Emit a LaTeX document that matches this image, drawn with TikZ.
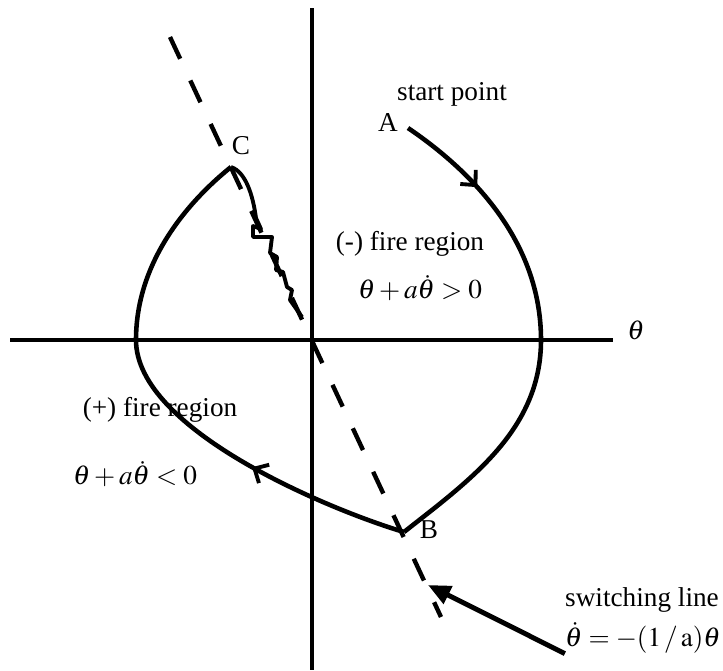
\documentclass[tikz,border=0pt]{standalone}
\usepackage{mathptmx}
\usepackage[no-math]{fontspec}
\setmainfont{Liberation Serif}
\usetikzlibrary{arrows.meta,decorations.markings}

\tikzset{
  axis/.style={line width=1.9pt},
  orbit/.style={line width=2.6pt},
  switchline/.style={line width=2.5pt, dash pattern=on 0.48cm off 0.48cm},
  midarrow/.style={postaction={decorate},
    decoration={markings,mark=at position #1 with {\arrow{Straight Barb[length=0.22cm,width=0.42cm,line width=2.2pt]}}}},
  lbl/.style={font=\fontsize{15.5}{18}\selectfont, inner sep=0pt}
}

\begin{document}
\begin{tikzpicture}[>=stealth, x=0.02cm, y=-0.02cm]
  \useasboundingbox (0,0) rectangle (723,670);
  % axes
  \draw[axis] (10,340) -- (613,340);
  \draw[axis] (312,8) -- (312,670);
  \node[lbl] (thlab) at (636,330) {$\theta$};
  % switching line
  \draw[switchline] (170,37) -- (441,617);
  % trajectory
  \coordinate (A) at (408,128);
  \coordinate (R) at (541,340);
  \coordinate (B) at (404,532);
  \coordinate (L) at (136,340);
  \coordinate (C) at (231,167);
  \draw[orbit, midarrow=0.35] (A) .. controls (470,170) and (541,240) .. (R);
  \draw[orbit] (R) .. controls (541,430) and (470,480) .. (B);
  \draw[orbit, midarrow=0.48] (B) .. controls (330,510) and (136,430) .. (L);
  \draw[orbit] (L) .. controls (136,260) and (190,200) .. (C);
  % chattering near origin
  \draw[orbit, line width=2.2pt, line join=round] (C) .. controls (246,172) and (253,196) .. (256,218)
    -- (261,229) -- (253,226) -- (253,237) -- (272,237) -- (270,253) -- (277,257)
    -- (276,270) -- (283,272) -- (287,287) -- (292,290) -- (290,300) -- (302,317);
  % labels
  \node[lbl] (startlbl) at (452,94) {start point};
  \node[lbl] (Alab) at (388,123) {A};
  \node[lbl] (Blab) at (429,530) {B};
  \node[lbl] (Clab) at (241,146) {C};
  \node[lbl] (neglbl) at (410,244) {(-) fire region};
  \node[lbl] (negeq) at (420,288) {$\theta+a\dot{\theta}>0$};
  \node[lbl] (poslbl) at (160,410) {(+) fire region};
  \node[lbl] (poseq) at (135,474) {$\theta+a\dot{\theta}<0$};
  \node[lbl] (swlbl) at (642,600) {switching line};
  \node[lbl] (sweq) at (643,638) {$\dot{\theta}=-(1\,/\,\mathrm{a})\theta$};
  \coordinate (swtip) at (428,585);
  \draw[-{Triangle[length=0.45cm,width=0.38cm]}, line width=2.8pt] (sweq.south west) -- (swtip);
\end{tikzpicture}
\end{document}
